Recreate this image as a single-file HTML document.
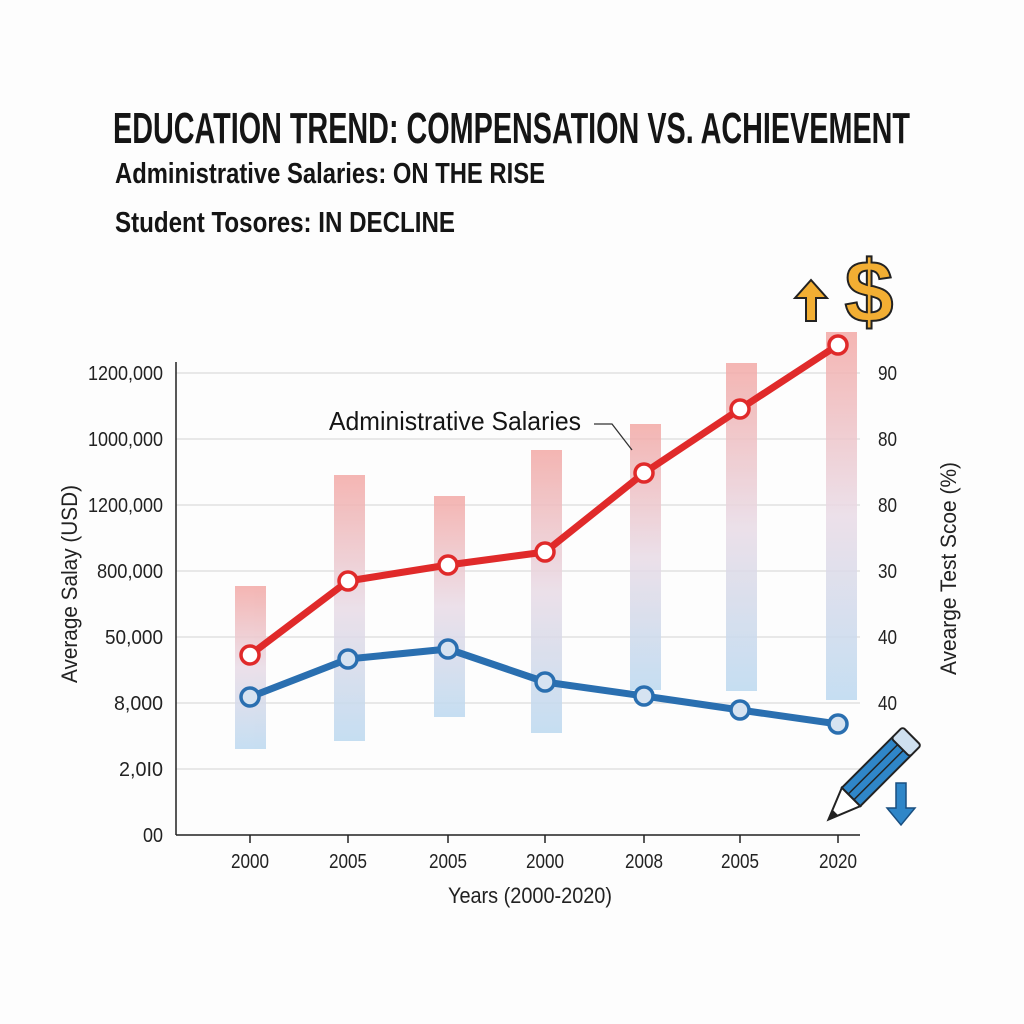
<!DOCTYPE html>
<html><head><meta charset="utf-8"><style>body{margin:0;background:#fff}svg{display:block}</style></head><body>
<svg width="1024" height="1024" viewBox="0 0 1024 1024" xmlns="http://www.w3.org/2000/svg" font-family="'Liberation Sans',sans-serif">
<defs>
<linearGradient id="bg" x1="0" y1="0" x2="0" y2="1">
<stop offset="0" stop-color="#f3a9a6"/><stop offset="0.5" stop-color="#e9dbe6"/><stop offset="1" stop-color="#bcd9f0"/>
</linearGradient>
</defs>
<rect width="1024" height="1024" fill="#fdfdfd"/>
<text x="113" y="143" font-size="44" font-weight="bold" fill="#151515" textLength="797" lengthAdjust="spacingAndGlyphs">EDUCATION TREND: COMPENSATION VS. ACHIEVEMENT</text>
<text x="115" y="183" font-size="29" font-weight="bold" fill="#151515" textLength="430" lengthAdjust="spacingAndGlyphs">Administrative Salaries: ON THE RISE</text>
<text x="115" y="232" font-size="29" font-weight="bold" fill="#151515" textLength="340" lengthAdjust="spacingAndGlyphs">Student Tosores: IN DECLINE</text>
<g stroke="#e2e2e2" stroke-width="1.5">
<line x1="176" y1="373" x2="860" y2="373"/><line x1="176" y1="439" x2="860" y2="439"/><line x1="176" y1="505" x2="860" y2="505"/><line x1="176" y1="571" x2="860" y2="571"/><line x1="176" y1="637" x2="860" y2="637"/><line x1="176" y1="703" x2="860" y2="703"/><line x1="176" y1="769" x2="860" y2="769"/>
</g>
<g fill="url(#bg)" opacity="0.85">
<rect x="235" y="586" width="31" height="163"/><rect x="334" y="475" width="31" height="266"/><rect x="434" y="496" width="31" height="221"/><rect x="531" y="450" width="31" height="283"/><rect x="630" y="424" width="31" height="266"/><rect x="726" y="363" width="31" height="328"/><rect x="826" y="332" width="31" height="368"/>
</g>
<line x1="176" y1="362" x2="176" y2="835" stroke="#222" stroke-width="1.5"/>
<line x1="176" y1="835" x2="860" y2="835" stroke="#222" stroke-width="1.5"/>
<g stroke="#222" stroke-width="1.5"><line x1="250" y1="835" x2="250" y2="843"/><line x1="348" y1="835" x2="348" y2="843"/><line x1="448" y1="835" x2="448" y2="843"/><line x1="545" y1="835" x2="545" y2="843"/><line x1="644" y1="835" x2="644" y2="843"/><line x1="740" y1="835" x2="740" y2="843"/><line x1="838" y1="835" x2="838" y2="843"/></g>
<g font-size="20" fill="#222" lengthAdjust="spacingAndGlyphs">
<text x="88" y="380" textLength="75" lengthAdjust="spacingAndGlyphs">1200,000</text>
<text x="88" y="446" textLength="75" lengthAdjust="spacingAndGlyphs">1000,000</text>
<text x="88" y="512" textLength="75" lengthAdjust="spacingAndGlyphs">1200,000</text>
<text x="97" y="578" textLength="66" lengthAdjust="spacingAndGlyphs">800,000</text>
<text x="105" y="644" textLength="58" lengthAdjust="spacingAndGlyphs">50,000</text>
<text x="114" y="710" textLength="49" lengthAdjust="spacingAndGlyphs">8,000</text>
<text x="119" y="776" textLength="44" lengthAdjust="spacingAndGlyphs">2,0I0</text>
<text x="143" y="842" textLength="20" lengthAdjust="spacingAndGlyphs">00</text>
</g>
<g font-size="20" fill="#222">
<text x="878" y="380" textLength="19" lengthAdjust="spacingAndGlyphs">90</text><text x="878" y="446" textLength="19" lengthAdjust="spacingAndGlyphs">80</text><text x="878" y="512" textLength="19" lengthAdjust="spacingAndGlyphs">80</text><text x="878" y="578" textLength="19" lengthAdjust="spacingAndGlyphs">30</text><text x="878" y="644" textLength="19" lengthAdjust="spacingAndGlyphs">40</text><text x="878" y="710" textLength="19" lengthAdjust="spacingAndGlyphs">40</text>
</g>
<g font-size="20" fill="#222">
<text x="231" y="868" textLength="38" lengthAdjust="spacingAndGlyphs">2000</text><text x="329" y="868" textLength="38" lengthAdjust="spacingAndGlyphs">2005</text><text x="429" y="868" textLength="38" lengthAdjust="spacingAndGlyphs">2005</text><text x="526" y="868" textLength="38" lengthAdjust="spacingAndGlyphs">2000</text><text x="625" y="868" textLength="38" lengthAdjust="spacingAndGlyphs">2008</text><text x="721" y="868" textLength="38" lengthAdjust="spacingAndGlyphs">2005</text><text x="819" y="868" textLength="38" lengthAdjust="spacingAndGlyphs">2020</text>
<text x="448" y="903" font-size="22" textLength="164" lengthAdjust="spacingAndGlyphs">Years (2000-2020)</text>
</g>
<text transform="translate(77,683) rotate(-90)" font-size="22" fill="#222" textLength="198" lengthAdjust="spacingAndGlyphs">Average Salay (USD)</text>
<text transform="translate(956,675) rotate(-90)" font-size="22" fill="#222" textLength="213" lengthAdjust="spacingAndGlyphs">Avearge Test Scoe (%)</text>
<text x="329" y="430" font-size="26" fill="#151515" textLength="252" lengthAdjust="spacingAndGlyphs">Administrative Salaries</text>
<path d="M594 424 L612 424 L632 450" fill="none" stroke="#333" stroke-width="1.3"/>
<polyline points="250,655 348,581 448,565 545,552 644,473 740,409 838,345" fill="none" stroke="#e02a2a" stroke-width="7" stroke-linejoin="round"/>
<polyline points="250,697 348,659 448,649 545,682 644,696 740,710 838,724" fill="none" stroke="#2a6fb0" stroke-width="7" stroke-linejoin="round"/>
<g fill="#fff" stroke="#e02a2a" stroke-width="3.5">
<circle cx="250" cy="655" r="9"/><circle cx="348" cy="581" r="9"/><circle cx="448" cy="565" r="9"/><circle cx="545" cy="552" r="9"/><circle cx="644" cy="473" r="9"/><circle cx="740" cy="409" r="9"/><circle cx="838" cy="345" r="9"/>
</g>
<g fill="#d6e3f1" stroke="#2a6fb0" stroke-width="3.5">
<circle cx="250" cy="697" r="9"/><circle cx="348" cy="659" r="9"/><circle cx="448" cy="649" r="9"/><circle cx="545" cy="682" r="9"/><circle cx="644" cy="696" r="9"/><circle cx="740" cy="710" r="9"/><circle cx="838" cy="724" r="9"/>
</g>
<path d="M806 321 L806 298 L795 298 L811 280 L827 298 L816 298 L816 321 Z" fill="#f2ae33" stroke="#222" stroke-width="2"/>
<text x="869" y="322" font-size="88" font-weight="bold" text-anchor="middle" fill="#f2ae33" stroke="#222" stroke-width="2">$</text>
<g transform="translate(868,780) rotate(45)">
<rect x="-13" y="-48" width="26" height="72" fill="#2f86c8" stroke="#222" stroke-width="2"/>
<rect x="-13" y="-62" width="26" height="16" rx="3" fill="#cfe0ef" stroke="#222" stroke-width="2"/>
<line x1="-4" y1="-46" x2="-4" y2="24" stroke="#222" stroke-width="1.5"/><line x1="4" y1="-46" x2="4" y2="24" stroke="#222" stroke-width="1.5"/>
<path d="M-13 24 L0 56 L13 24 Z" fill="#fff" stroke="#222" stroke-width="2"/>
<path d="M-4 46 L0 56 L4 46 Z" fill="#222"/>
</g>
<path d="M896 783 L906 783 L906 808 L915 808 L901 825 L887 808 L896 808 Z" fill="#2f86c8" stroke="#1a4f80" stroke-width="1.5"/>
</svg>
</body></html>
